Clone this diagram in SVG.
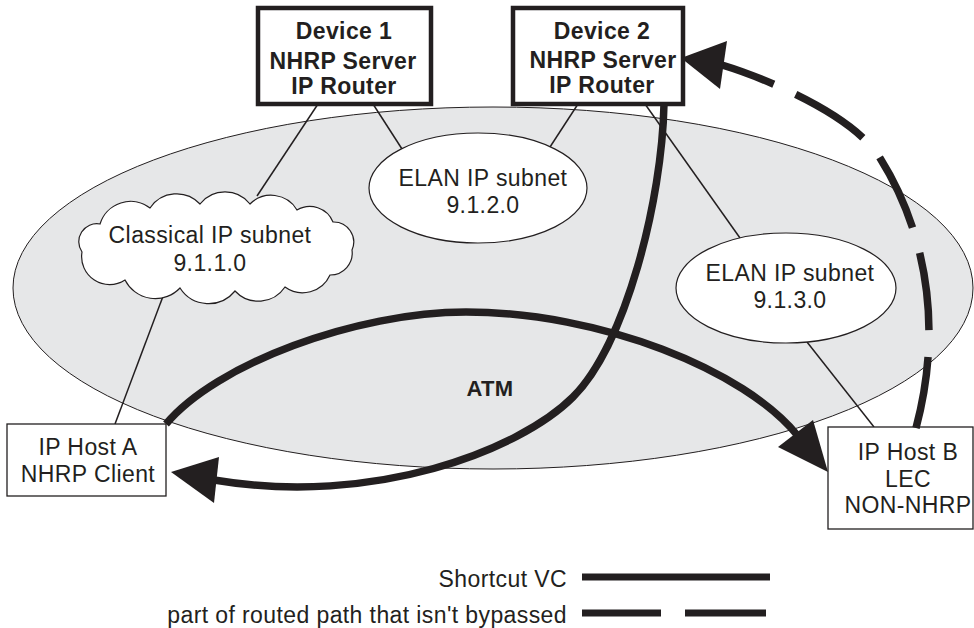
<svg xmlns="http://www.w3.org/2000/svg" width="974" height="628" viewBox="0 0 974 628">
<style>
text { font-family: "Liberation Sans", Arial, sans-serif; fill: #231f20; font-size: 23px; letter-spacing: 0.4px; text-anchor: middle; }
.b { font-weight: bold; }
.thin { stroke: #231f20; stroke-width: 1.5; fill: none; }
.sub { fill: #ffffff; stroke: #231f20; stroke-width: 1.2; }
.dev { fill: #ffffff; stroke: #231f20; stroke-width: 4.5; }
.host { fill: #ffffff; stroke: #231f20; stroke-width: 1.3; }
.thick { stroke: #231f20; stroke-width: 7.5; fill: none; }
.head { fill: #231f20; }
.leg { text-anchor: end; }
</style>
<rect width="974" height="628" fill="#ffffff"/>

<g id="atm">
  <ellipse cx="493" cy="288" rx="480" ry="181" fill="#e6e7e8" stroke="#231f20" stroke-width="1"/>
  <text class="b" x="490" y="396" style="font-size:22px">ATM</text>
</g>

<g id="thin-links">
  <line class="thin" x1="318" y1="104" x2="257" y2="196"/>
  <line class="thin" x1="373" y1="104" x2="402" y2="149"/>
  <line class="thin" x1="578" y1="104" x2="550" y2="147"/>
  <line class="thin" x1="645" y1="104" x2="740" y2="238"/>
  <line class="thin" x1="165" y1="291" x2="115" y2="424"/>
  <line class="thin" x1="807" y1="342" x2="874" y2="427"/>
</g>

<g id="classical-subnet">
  <path class="sub" d="M82,252 A18,18 0 0 1 100,224 A32,32 0 0 1 150,208 A32,32 0 0 1 200,204 A32,32 0 0 1 250,204 A30,30 0 0 1 297,210 A25,25 0 0 1 333,222 A20,20 0 0 1 352,250 A22,22 0 0 1 330,275 A30,30 0 0 1 285,287 A32,32 0 0 1 235,291 A34,34 0 0 1 180,288 A34,34 0 0 1 125,280 A28,28 0 0 1 82,252 Z"/>
  <text x="210" y="243">Classical IP subnet</text>
  <text x="210" y="271">9.1.1.0</text>
</g>

<g id="elan-912">
  <ellipse class="sub" cx="478" cy="188" rx="109" ry="55"/>
  <text x="483" y="186">ELAN IP subnet</text>
  <text x="483" y="213">9.1.2.0</text>
</g>

<g id="elan-913">
  <ellipse class="sub" cx="786" cy="288" rx="110" ry="55"/>
  <text x="790" y="281">ELAN IP subnet</text>
  <text x="790" y="308">9.1.3.0</text>
</g>

<g id="device1">
  <rect class="dev" x="258" y="8" width="173" height="96"/>
  <text class="b" x="344" y="39">Device 1</text>
  <text class="b" x="343" y="69">NHRP Server</text>
  <text class="b" x="344" y="94">IP Router</text>
</g>

<g id="device2">
  <rect class="dev" x="513" y="8" width="170" height="96"/>
  <text class="b" x="602" y="39">Device 2</text>
  <text class="b" x="603" y="68">NHRP Server</text>
  <text class="b" x="602" y="93">IP Router</text>
</g>

<g id="hostA">
  <rect class="host" x="7" y="424" width="159" height="72"/>
  <text x="88" y="455">IP Host A</text>
  <text x="88" y="482">NHRP Client</text>
</g>

<g id="hostB">
  <rect class="host" x="828" y="427" width="145" height="102"/>
  <text x="908" y="460">IP Host B</text>
  <text x="908" y="487">LEC</text>
  <text x="908" y="513">NON-NHRP</text>
</g>

<g id="connectors">
  <path class="thick" d="M166,424 C216,364 356,312 466,312 C600,312 745,370 798,436"/>
  <polygon class="head" points="828,472 813,420 778,447"/>
  <path class="thick" d="M664,104 C662,200 626,344 573,397 C520,450 374,507 214,480"/>
  <polygon class="head" points="171,472 219,457 214,503"/>
  <path class="thick" stroke-width="7" stroke-dasharray="72 27 78 26 78 26 80 24 200" d="M916,428 C945,320 922,225 880,158 C854,115 765,78 722,65"/>
  <polygon class="head" points="681,58 727,41 720,89"/>
</g>

<g id="legend">
  <text class="leg" x="567" y="587">Shortcut VC</text>
  <line x1="582" y1="577" x2="770" y2="577" stroke="#231f20" stroke-width="7"/>
  <text class="leg" x="567" y="623">part of routed path that isn't bypassed</text>
  <line x1="582" y1="613" x2="661" y2="613" stroke="#231f20" stroke-width="7"/>
  <line x1="685" y1="613" x2="766" y2="613" stroke="#231f20" stroke-width="7"/>
</g>
</svg>
